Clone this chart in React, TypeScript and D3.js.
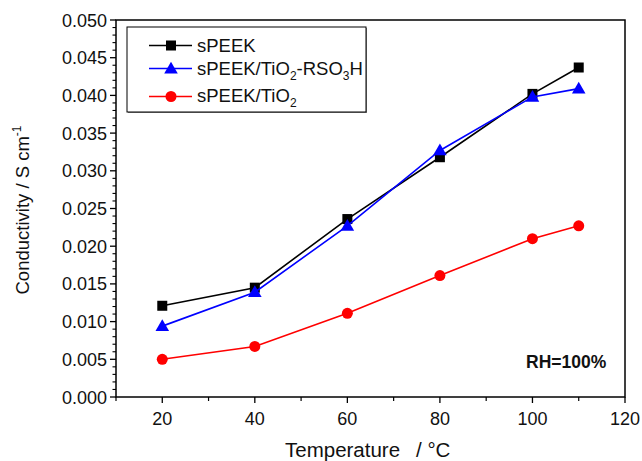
import React from "react";
import * as d3 from "d3";

const temperatures = [20, 40, 60, 80, 100, 110];
const speek = [0.0121, 0.0145, 0.0236, 0.0318, 0.0402, 0.0437];
const speekTiO2RSO3H = [0.0094, 0.0139, 0.0227, 0.0327, 0.0398, 0.0409];
const speekTiO2 = [0.005, 0.0067, 0.0111, 0.0161, 0.021, 0.0227];

const xTicks = [20, 40, 60, 80, 100, 120];
const yTicks = [0, 0.005, 0.01, 0.015, 0.02, 0.025, 0.03, 0.035, 0.04, 0.045, 0.05];

const W = 642;
const H = 461;
const M = { left: 116, top: 20, right: 625, bottom: 397 };
const FONT = "Liberation Sans, Arial, sans-serif";

type Series = { name: string; color: string; shape: "square" | "triangle" | "circle"; values: number[] };

const series: Series[] = [
  { name: "sPEEK", color: "#000000", shape: "square", values: speek },
  { name: "sPEEK/TiO2-RSO3H", color: "#0000ff", shape: "triangle", values: speekTiO2RSO3H },
  { name: "sPEEK/TiO2", color: "#ff0000", shape: "circle", values: speekTiO2 },
];

function Marker({ shape, x, y, color }: { shape: Series["shape"]; x: number; y: number; color: string }) {
  if (shape === "square") {
    return <rect x={x - 5} y={y - 5} width={10} height={10} fill={color} />;
  }
  if (shape === "triangle") {
    const sym = d3.symbol().type(d3.symbolTriangle).size(80)();
    return <path d={sym || ""} transform={`translate(${x},${y + 1})`} fill={color} />;
  }
  return <circle cx={x} cy={y} r={5.5} fill={color} />;
}

function LegendLabel({ name }: { name: string }) {
  if (name === "sPEEK/TiO2-RSO3H") {
    return (
      <>
        sPEEK/TiO<tspan dy={5} fontSize={12}>2</tspan>
        <tspan dy={-5}>-RSO</tspan>
        <tspan dy={5} fontSize={12}>3</tspan>
        <tspan dy={-5}>H</tspan>
      </>
    );
  }
  if (name === "sPEEK/TiO2") {
    return (
      <>
        sPEEK/TiO<tspan dy={5} fontSize={12}>2</tspan>
      </>
    );
  }
  return <>{name}</>;
}

export default function App() {
  const x = d3.scaleLinear().domain([10, 120]).range([M.left, M.right]);
  const y = d3.scaleLinear().domain([0, 0.05]).range([M.bottom, M.top]);

  const xMinor = d3.range(10, 121, 10).filter((v) => !xTicks.includes(v));
  const yMinor = d3.range(0, 51, 1).map((v) => v / 1000).filter((v) => Math.round(v * 1000) % 5 !== 0);

  const line = (vals: number[]) =>
    d3.line<number>().x((_, i) => x(temperatures[i])).y((d) => y(d))(vals) || "";

  const legendRows = [45.5, 68.5, 96.5];
  const legendBaselines = [51.7, 75, 101.5];

  return (
    <svg width={W} height={H} style={{ position: "absolute", left: 0, top: 0 }} fontFamily={FONT}>
      <rect width={W} height={H} fill="#fff" />
      {/* frame */}
      <rect x={M.left} y={M.top} width={M.right - M.left} height={M.bottom - M.top} fill="none" stroke="#000" strokeWidth={1.5} />

      {/* x axis ticks */}
      {xTicks.map((t) => (
        <g key={`xt${t}`}>
          <line x1={x(t)} x2={x(t)} y1={M.bottom} y2={M.bottom + 6} stroke="#000" strokeWidth={1.3} />
          <text x={x(t)} y={425} textAnchor="middle" fontSize={18} fill="#111">{t}</text>
        </g>
      ))}
      {xMinor.map((t) => (
        <line key={`xm${t}`} x1={x(t)} x2={x(t)} y1={M.bottom} y2={M.bottom + 4} stroke="#000" strokeWidth={1.2} />
      ))}

      {/* y axis ticks */}
      {yTicks.map((t) => (
        <g key={`yt${t}`}>
          <line x1={M.left - 6} x2={M.left} y1={y(t)} y2={y(t)} stroke="#000" strokeWidth={1.3} />
          <text x={107} y={y(t) + 6.5} textAnchor="end" fontSize={18} fill="#111">{d3.format(".3f")(t)}</text>
        </g>
      ))}
      {yMinor.map((t) => (
        <line key={`ym${t}`} x1={M.left - 3.5} x2={M.left} y1={y(t)} y2={y(t)} stroke="#000" strokeWidth={1.1} />
      ))}

      {/* axis titles */}
      <text x={285} y={457} fontSize={20.5} fill="#111">Temperature</text>
      <text x={416} y={457} fontSize={20.5} fill="#111">/ °C</text>
      <text transform="translate(29,210) rotate(-90)" textAnchor="middle" fontSize={18.5} fill="#111">
        Conductivity / S cm<tspan dy={-8} fontSize={12}>-1</tspan>
      </text>

      {/* data */}
      {series.map((s) => (
        <g key={s.name}>
          <path d={line(s.values)} fill="none" stroke={s.color} strokeWidth={1.6} />
          {s.values.map((v, i) => (
            <Marker key={i} shape={s.shape} x={x(temperatures[i])} y={y(v)} color={s.color} />
          ))}
        </g>
      ))}

      {/* legend */}
      <rect x={128} y={28} width={239} height={85} fill="#888" />
      <rect x={127} y={27} width={239} height={85} fill="#fff" stroke="#000" strokeWidth={1} />
      {series.map((s, i) => (
        <g key={`lg${s.name}`}>
          <line x1={149} x2={192} y1={legendRows[i]} y2={legendRows[i]} stroke={s.color} strokeWidth={1.6} />
          <Marker shape={s.shape} x={171} y={legendRows[i]} color={s.color} />
          <text x={197} y={legendBaselines[i]} fontSize={18.5} fill="#111">
            <LegendLabel name={s.name} />
          </text>
        </g>
      ))}

      <text x={526} y={368} fontSize={17.5} fontWeight="bold" fill="#111">RH=100%</text>
    </svg>
  );
}
